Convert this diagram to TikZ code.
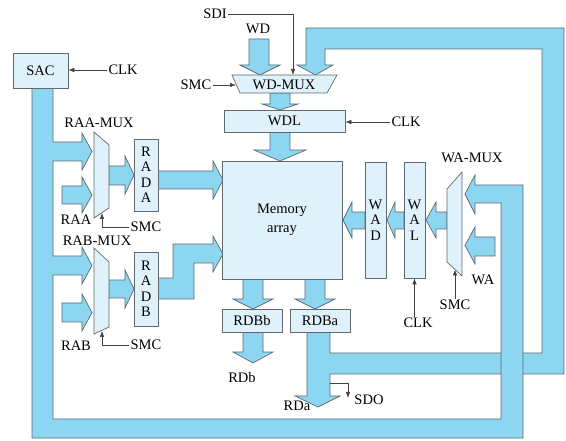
\documentclass[tikz,border=0pt]{standalone}
\usepackage{fontspec}
\setmainfont{Liberation Serif}
\usetikzlibrary{arrows.meta}
\definecolor{busblue}{RGB}{140,214,242}
\definecolor{boxblue}{RGB}{223,241,250}
\definecolor{edgegray}{RGB}{95,105,110}
\begin{document}
\begin{tikzpicture}[x=1pt,y=-1pt,
  bus/.style={fill=busblue,draw=edgegray,line width=0.7pt,line join=miter},
  blk/.style={draw=edgegray,fill=boxblue,line width=0.7pt,inner sep=0pt,font=\fontsize{14.5}{16}\selectfont},
  vblk/.style={blk,align=center,font=\fontsize{14.5}{15.5}\selectfont},
  mux/.style={draw=edgegray,fill=boxblue,line width=0.7pt,line join=miter},
  lbl/.style={inner sep=1pt,font=\fontsize{14.5}{16}\selectfont},
  sig/.style={draw=black!75,line width=0.6pt,-{Latex[length=6pt,width=4.5pt]}},
  wire/.style={draw=black!75,line width=0.6pt}]
\useasboundingbox (0,0) rectangle (566,441);

% ---------- feedback bus (RDBa -> RDa, and -> WD-MUX) ----------
\path[bus] (307,332) -- (307,396) -- (295,396) -- (318,407) -- (340,396) -- (330,396)
  -- (330,374) -- (564,374) -- (564,28) -- (306,28) -- (306,65) -- (297,65) -- (315.5,75)
  -- (333,65) -- (325,65) -- (325,49) -- (542,49) -- (542,353) -- (330,353) -- (330,332) -- cycle;

% ---------- SAC bus ----------
\path[bus] (32,88) -- (32,438) -- (523,438) -- (523,185) -- (475,185) -- (475,175)
  -- (465,194) -- (475,214) -- (475,203) -- (501,203) -- (501,419) -- (53,419)
  -- (53,275) -- (82,275) -- (82,284) -- (92,265.5) -- (82,247) -- (82,256) -- (53,256)
  -- (53,161) -- (82,161) -- (82,170) -- (92,151.5) -- (82,133) -- (82,142) -- (53,142)
  -- (53,88) -- cycle;

% ---------- single arrows ----------
% WD in
\path[bus] (249,39) -- (269,39) -- (269,65) -- (280,65) -- (260,75) -- (240,65) -- (249,65) -- cycle;
% WD-MUX -> WDL
\path[bus] (270,93) -- (290,93) -- (290,104) -- (298,104) -- (280,110) -- (262,104) -- (270,104) -- cycle;
% WDL -> memory
\path[bus] (270,132) -- (290,132) -- (290,150) -- (306,150) -- (280,161) -- (254,150) -- (270,150) -- cycle;
% memory -> RDBb
\path[bus] (243,279) -- (263,279) -- (263,299) -- (273,299) -- (253,309) -- (233,299) -- (243,299) -- cycle;
% memory -> RDBa
\path[bus] (305,279) -- (325,279) -- (325,299) -- (335,299) -- (315,309) -- (295,299) -- (305,299) -- cycle;
% RDBb -> RDb
\path[bus] (243,332) -- (263,332) -- (263,352) -- (273,352) -- (253,363) -- (233,352) -- (243,352) -- cycle;
% RAA in
\path[bus] (62,186) -- (82,186) -- (82,177) -- (92,195) -- (82,213) -- (82,204) -- (62,204) -- cycle;
% RAB in
\path[bus] (62,303) -- (82,303) -- (82,294) -- (92,312.5) -- (82,331) -- (82,322) -- (62,322) -- cycle;
% RAA-MUX -> RADA
\path[bus] (109,166) -- (125,166) -- (125,156) -- (134,175) -- (125,194) -- (125,185) -- (109,185) -- cycle;
% RADA -> memory
\path[bus] (158,171) -- (213,171) -- (213,161) -- (223,180) -- (213,199) -- (213,189) -- (158,189) -- cycle;
% RAB-MUX -> RADB
\path[bus] (109,280) -- (125,280) -- (125,270) -- (134,289) -- (125,308) -- (125,298) -- (109,298) -- cycle;
% RADB -> memory (stepped)
\path[bus] (158,278) -- (173,278) -- (173,244) -- (213,244) -- (213,236) -- (223,254) -- (213,272)
  -- (213,263) -- (194,263) -- (194,299) -- (158,299) -- cycle;
% WA in
\path[bus] (495,237) -- (475,237) -- (475,227) -- (465,245.5) -- (475,264) -- (475,256) -- (495,256) -- cycle;
% WA-MUX -> WAL
\path[bus] (447,212) -- (436,212) -- (436,202) -- (426,220) -- (436,238) -- (436,229) -- (447,229) -- cycle;
% WAL -> WAD
\path[bus] (404,212) -- (395,212) -- (395,202) -- (387,220) -- (395,238) -- (395,229) -- (404,229) -- cycle;
% WAD -> memory
\path[bus] (365,212) -- (352,212) -- (352,202) -- (343,220) -- (352,238) -- (352,229) -- (365,229) -- cycle;

% ---------- multiplexers ----------
\path[mux] (232,75) -- (337,75) -- (327,93) -- (240,93) -- cycle;
\path[mux] (94,132) -- (109,145) -- (109,208) -- (94,218) -- cycle;
\path[mux] (94,248) -- (109,262) -- (109,327) -- (94,334) -- cycle;
\path[mux] (462,172) -- (447,189) -- (447,262) -- (462,276) -- cycle;
\coordinate (wdmuxW) at (236,85);
\coordinate (wdmuxN) at (293,75);
\coordinate (raamuxS) at (102,213);
\coordinate (rabmuxS) at (102,331);
\coordinate (wamuxS) at (455,269.5);
\node[lbl] (wdmux) at (284,85) {WD-MUX};

% ---------- blocks ----------
\node[blk,minimum width=55pt,minimum height=35pt] (sac) at (40.5,70.5) {SAC};
\node[blk,minimum width=121pt,minimum height=22pt] (wdl) at (284.5,121) {WDL};
\node[blk,minimum width=120pt,minimum height=118pt,align=center,
      font=\fontsize{14.5}{19}\selectfont] (mem) at (282,220) {Memory\\array};
\node[vblk,minimum width=24pt,minimum height=72pt] (rada) at (146,175) {R\\A\\D\\A};
\node[vblk,minimum width=24pt,minimum height=74pt] (radb) at (146,289) {R\\A\\D\\B};
\node[vblk,minimum width=21pt,minimum height=116pt] (wad) at (375.5,220) {W\\A\\D};
\node[vblk,minimum width=21pt,minimum height=116pt] (wal) at (414.5,220) {W\\A\\L};
\node[blk,minimum width=60pt,minimum height=23pt] (rdbb) at (252,320.5) {RDBb};
\node[blk,minimum width=60pt,minimum height=23pt] (rdba) at (320,320.5) {RDBa};

% ---------- labels ----------
\node[lbl] (clk1) at (123,70) {CLK};
\node[lbl] (sdi) at (215,14) {SDI};
\node[lbl] (wd) at (258,29) {WD};
\node[lbl] (smc1) at (196,85) {SMC};
\node[lbl] (clk2) at (406,122) {CLK};
\node[lbl] (raamuxl) at (99,123) {RAA-MUX};
\node[lbl] (raa) at (76,220) {RAA};
\node[lbl] (smc2) at (146,227) {SMC};
\node[lbl] (rabmuxl) at (97,241) {RAB-MUX};
\node[lbl] (rab) at (76,346) {RAB};
\node[lbl] (smc3) at (146,345) {SMC};
\node[lbl] (wamuxl) at (472,158) {WA-MUX};
\node[lbl] (wa) at (483,280) {WA};
\node[lbl] (smc4) at (455,305) {SMC};
\node[lbl] (clk3) at (418,323) {CLK};
\node[lbl] (rdb) at (242,378) {RDb};
\node[lbl] (rda) at (297,406) {RDa};
\node[lbl] (sdo) at (369,400) {SDO};
\coordinate (sdoS) at (330,383);

% ---------- control signals ----------
\draw[sig] (clk1.west) -- (clk1.west -| sac.east);
\draw[sig] (clk2.west) -- (clk2.west -| wdl.east);
\draw[sig] (smc1.east) -- (wdmuxW);
\draw[sig] (sdi.east) -| (wdmuxN);
\draw[sig] (smc2.west) -| (raamuxS);
\draw[sig] (smc3.west) -| (rabmuxS);
\draw[sig] (smc4.north) -- (wamuxS);
\draw[sig] (clk3.north -| wal.south) -- (wal.south);
\draw[sig] (sdoS) -| ([yshift=2pt]sdo.west -| 348,0);
\end{tikzpicture}
\end{document}
